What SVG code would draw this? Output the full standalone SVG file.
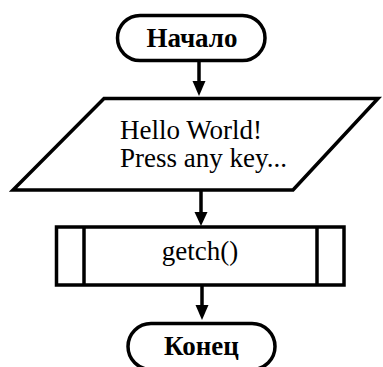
<svg xmlns="http://www.w3.org/2000/svg" width="383" height="367" viewBox="0 0 383 367">
<style>
.shape{fill:#fff;stroke:#000;stroke-width:3.5}
.line{stroke:#000;stroke-width:3.5;fill:none}
.head{fill:#000}
.t{font-family:"Liberation Serif","Times New Roman",serif;font-size:27px;fill:#000}
.b{font-weight:bold;font-size:27px}
</style>
<g id="connectors">
<path class="line" d="M199,61 V82"/>
<path class="head" d="M192.5,81 L205.5,81 L199,96 Z"/>
<path class="line" d="M201,191 V213"/>
<path class="head" d="M194.5,212 L207.5,212 L201,226 Z"/>
<path class="line" d="M202,286 V306"/>
<path class="head" d="M195.5,305 L208.5,305 L202,320 Z"/>
</g>
<g id="start">
<rect class="shape" x="117.5" y="15.5" width="147.5" height="45" rx="22.5" ry="22.5" stroke-width="3"/>
<text class="t b" x="192" y="47" text-anchor="middle">Начало</text>
</g>
<g id="io">
<polygon class="shape" points="104,98.5 378,98.5 293,190 13,190" stroke-width="4"/>
<text class="t" x="120" y="139">Hello World!</text>
<text class="t" x="120" y="167">Press any key...</text>
</g>
<g id="process">
<rect class="shape" x="56.5" y="227" width="287.5" height="58" stroke-width="4"/>
<line class="line" x1="84" y1="227" x2="84" y2="285" stroke-width="4"/>
<line class="line" x1="317" y1="227" x2="317" y2="285" stroke-width="4"/>
<text class="t" x="200" y="260" text-anchor="middle">getch()</text>
</g>
<g id="end">
<rect class="shape" x="128" y="323.5" width="147" height="46" rx="23" ry="23" stroke-width="3"/>
<text class="t b" x="201.5" y="355" text-anchor="middle">Конец</text>
</g>
</svg>
